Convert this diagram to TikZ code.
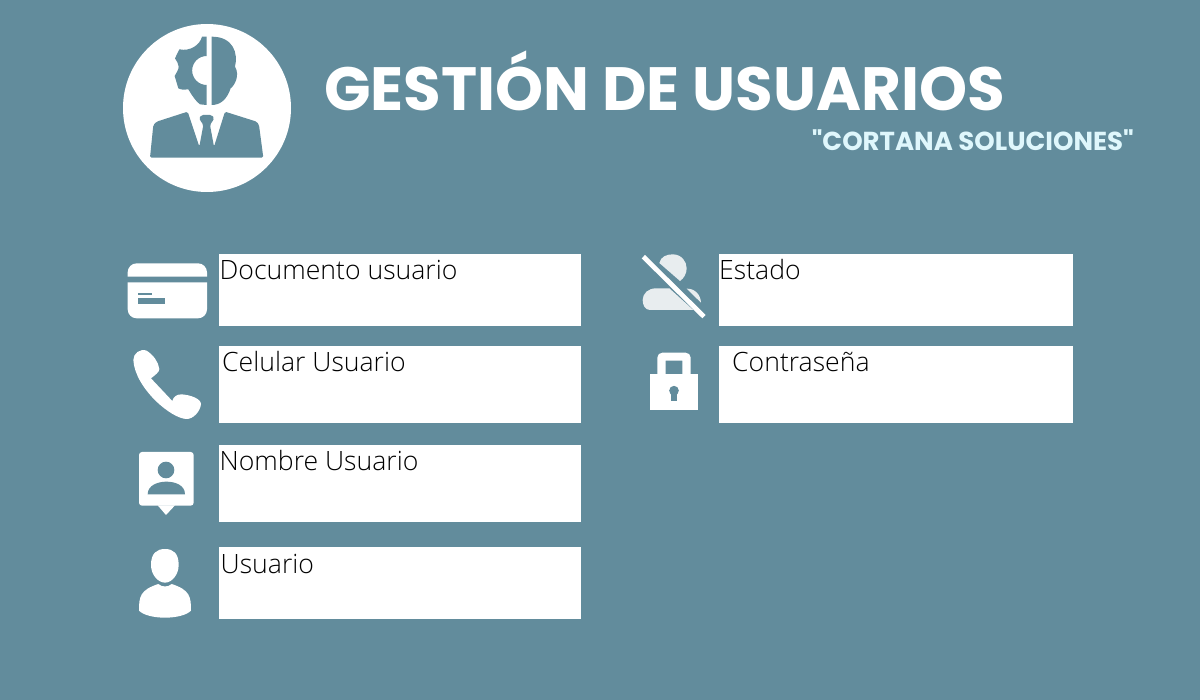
\documentclass[tikz,border=0pt]{standalone}
\usepackage{fontspec}
\setmainfont{Open Sans}[UprightFont={* Light}]
\newfontfamily\titlefont{Poppins}[BoldFont={* Bold}]
\usetikzlibrary{positioning}
\definecolor{slate}{HTML}{628C9C}
\definecolor{paleblue}{HTML}{DFF7FC}
\definecolor{mist}{HTML}{E8EDEF}
\tikzset{
fieldbox/.style={draw=none,fill=white,anchor=north west,inner sep=0pt,minimum width=362pt,minimum height=72pt},
fieldtext/.style={anchor=base west,inner sep=0pt,text=black,font=\fontsize{26.6}{27}\selectfont},
icon/.style={fill=white,draw=none},
cut/.style={fill=slate,draw=none}
}
\begin{document}
\begin{tikzpicture}
[x=1pt,y=-1pt]
\fill[slate] (0,0) rectangle (1200,700);
\useasboundingbox (0,0) rectangle (1200,700);

\node[circle,fill=white,minimum size=168pt,inner sep=0pt] (logo) at (207,108) {};
\node[anchor=base west,inner sep=0pt,text=white,font=\titlefont\bfseries\fontsize{61.1}{61}\selectfont] (title) at (324,110.5) {GESTIÓN DE USUARIOS};
\node[anchor=base east,inner sep=0pt,text=paleblue,font=\titlefont\bfseries\fontsize{26}{26}\selectfont] (subtitle) at (1134,151) {"CORTANA SOLUCIONES"};

\node[fieldbox] (doc) at (219,254) {};
\node[fieldbox,minimum height=77pt] (cel) at (219,346) {};
\node[fieldbox,minimum height=77pt] (nom) at (219,445) {};
\node[fieldbox] (usu) at (219,547) {};
\node[fieldbox,minimum width=354.5pt] (est) at (718.5,254) {};
\node[fieldbox,minimum width=354pt,minimum height=77pt] (con) at (719,346) {};

\node[fieldtext] (doctext) at ([xshift=0.5pt,yshift=-26pt]doc.north west) {Documento usuario};
\node[fieldtext] (celtext) at ([xshift=3pt,yshift=-26pt]cel.north west) {Celular Usuario};
\node[fieldtext] (nomtext) at ([xshift=0.5pt,yshift=-26pt]nom.north west) {Nombre Usuario};
\node[fieldtext] (usutext) at ([xshift=1.5pt,yshift=-26.5pt]usu.north west) {Usuario};
\node[fieldtext] (esttext) at ([xshift=0.5pt,yshift=-26pt]est.north west) {Estado};
\node[fieldtext] (context) at ([xshift=13pt,yshift=-26pt]con.north west) {Contraseña};

\begin{scope}[shift={(110,10)},scale=1/3]
\fill[cut] (290,80) -- (276,80) .. controls (270,105) and (240,125) .. (208,118)
 -- (195,145) .. controls (200,155) and (206,160) .. (206,170)
 .. controls (206,180) and (198,190) .. (194,198) -- (205,235)
 .. controls (215,240) and (225,240) .. (235,238)
 .. controls (245,255) and (258,275) .. (270,283) -- (290,285) -- (290,225)
 arc (90:270:43.5) -- cycle;
\fill[cut] (305,80) -- (305,285) .. controls (330,285) and (350,270) .. (362,235)
 .. controls (375,225) and (390,195) .. (375,170)
 .. controls (385,130) and (370,80) .. (305,80) -- cycle;
\fill[cut,rounded corners=1.5pt] (233,305) -- (268,410) -- (280,345) -- (267,325) -- (275,315) -- (305,315)
 -- (313,325) -- (300,345) -- (312,410) -- (345,305) -- (440,335) -- (447,345) -- (460,443)
 -- (120,443) -- (130,345) -- (140,335) -- cycle;
\end{scope}

\begin{scope}[shift={(115,245)},scale=1/3]
\fill[icon] (38,95) -- (38,82) arc (180:270:27) -- (249,55) arc (-90:0:27) -- (276,95) -- cycle;
\fill[icon] (38,112) -- (276,112) -- (276,193) arc (0:90:27) -- (65,220) arc (90:180:27) -- cycle;
\fill[cut] (68,143) rectangle (110,151);
\fill[cut] (68,160) rectangle (150,176);
\fill[icon] (55,345) .. controls (55,325) and (75,310) .. (95,317)
 .. controls (115,330) and (130,350) .. (133,372) .. controls (133,382) and (120,390) .. (108,400)
 -- (172,468) .. controls (175,455) and (185,448) .. (200,448)
 .. controls (225,450) and (258,460) .. (258,478) .. controls (255,500) and (235,522) .. (215,522)
 .. controls (170,522) and (60,430) .. (55,345) -- cycle;
\end{scope}

\begin{scope}[shift={(115,440)},scale=1/3]
\fill[icon,rounded corners=3pt] (72,36) rectangle (236,197);
\fill[icon] (128,196) -- (153,225) -- (180,196) -- cycle;
\fill[cut] (153,90) circle (25);
\fill[cut] (98,163) .. controls (98,135) and (130,125) .. (154,125) .. controls (180,125) and (210,135) .. (210,163) -- cycle;
\fill[icon] (108,375) .. controls (108,340) and (125,327) .. (150,327) .. controls (175,327) and (191,340) .. (191,375)
 .. controls (191,405) and (170,428) .. (150,428) .. controls (130,428) and (108,405) .. (108,375) -- cycle;
\fill[icon] (72,512) .. controls (72,470) and (75,450) .. (130,432) .. controls (140,442) and (160,442) .. (170,432)
 .. controls (225,450) and (228,470) .. (228,512) .. controls (215,525) and (185,533) .. (150,533)
 .. controls (115,533) and (85,525) .. (72,512) -- cycle;
\end{scope}

\begin{scope}[shift={(630,245)},scale=1/3]
\fill[mist] (88,54) .. controls (92,35) and (110,28) .. (128,28) .. controls (155,28) and (170,50) .. (170,70)
 .. controls (170,85) and (162,100) .. (150,108) -- cycle;
\fill[mist] (38,165) .. controls (38,145) and (55,130) .. (78,130) -- (118,130) -- (190,195) -- (60,195) .. controls (45,195) and (38,180) .. (38,165) -- cycle;
\fill[mist] (170,131) .. controls (195,130) and (212,150) .. (213,173) -- cycle;
\draw[white,line width=4.7pt] (40,35) -- (222,215);
\fill[icon] (60,388) rectangle (205,495);
\fill[icon,even odd rule] (82,390) -- (82,338) arc (180:270:15) -- (167,323) arc (-90:0:15) -- (182,390) -- cycle (107,347) rectangle (157,390);
\fill[cut] (132,437) circle (14.5);
\fill[cut] (123,437) rectangle (141,468);
\end{scope}
\end{tikzpicture}
\end{document}
